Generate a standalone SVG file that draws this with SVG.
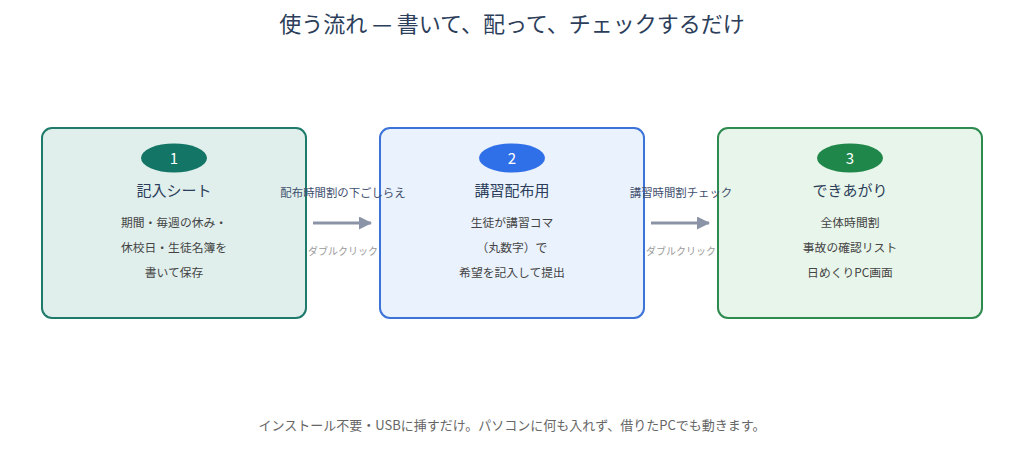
<svg xmlns="http://www.w3.org/2000/svg" width="1024" height="465" viewBox="0 0 1024 465">
<defs>
<marker id="ah" markerWidth="13" markerHeight="13" refX="12" refY="6.5" orient="auto" markerUnits="userSpaceOnUse">
<path d="M0,0 L13,6.5 L0,13 Z" fill="#8a94a6"/>
</marker>
<style>
text{font-family:"Noto Sans CJK JP","Noto Sans",sans-serif;text-anchor:middle}
.title{font-size:22px;fill:#2c3e5a}
.ntitle{font-size:15px;fill:#2c3e5a}
.body{font-size:11.8px;fill:#444}
.num{font-size:15px;fill:#fff}
.elab{font-size:11.4px;fill:#3f4f6e}
.sub{font-size:10px;fill:#9a9a9a}
.foot{font-size:13px;fill:#666}
.box{stroke-width:2}
.conn{stroke:#8a94a6;stroke-width:3;fill:none}
</style>
</defs>
<rect width="1024" height="465" fill="#fff"/>
<text class="title" x="512" y="32">使う流れ — 書いて、配って、チェックするだけ</text>
<g id="node1">
<rect class="box" x="42" y="128" width="264" height="190" rx="10" fill="#e0efec" stroke="#1e7a6a"/>
<ellipse cx="174" cy="158" rx="33" ry="14.5" fill="#127565"/>
<text class="num" x="174" y="163.5">1</text>
<text class="ntitle" x="174" y="196">記入シート</text>
<text class="body" x="174" y="226.5">期間・毎週の休み・</text>
<text class="body" x="174" y="251.5">休校日・生徒名簿を</text>
<text class="body" x="174" y="276.5">書いて保存</text>
</g>
<g id="node2">
<rect class="box" x="380" y="128" width="264" height="190" rx="10" fill="#eaf2fd" stroke="#3b73d9"/>
<ellipse cx="512" cy="158" rx="33" ry="14.5" fill="#2f6fe8"/>
<text class="num" x="512" y="163.5">2</text>
<text class="ntitle" x="512" y="196">講習配布用</text>
<text class="body" x="512" y="226.5">生徒が講習コマ</text>
<text class="body" x="512" y="251.5">（丸数字）で</text>
<text class="body" x="512" y="276.5">希望を記入して提出</text>
</g>
<g id="node3">
<rect class="box" x="718" y="128" width="264" height="190" rx="10" fill="#e8f5ea" stroke="#2e8b4f"/>
<ellipse cx="850" cy="158" rx="33" ry="14.5" fill="#20874a"/>
<text class="num" x="850" y="163.5">3</text>
<text class="ntitle" x="850" y="196">できあがり</text>
<text class="body" x="850" y="226.5">全体時間割</text>
<text class="body" x="850" y="251.5">事故の確認リスト</text>
<text class="body" x="850" y="276.5">日めくりPC画面</text>
</g>
<g id="connectors">
<line class="conn" x1="313" y1="223" x2="371" y2="223" marker-end="url(#ah)"/>
<text class="elab" x="343" y="197">配布時間割の下ごしらえ</text>
<text class="sub" x="343" y="255">ダブルクリック</text>
<line class="conn" x1="651" y1="223" x2="709" y2="223" marker-end="url(#ah)"/>
<text class="elab" x="681" y="197">講習時間割チェック</text>
<text class="sub" x="681" y="255">ダブルクリック</text>
</g>
<text class="foot" x="512" y="430">インストール不要・USBに挿すだけ。パソコンに何も入れず、借りたPCでも動きます。</text>
</svg>
